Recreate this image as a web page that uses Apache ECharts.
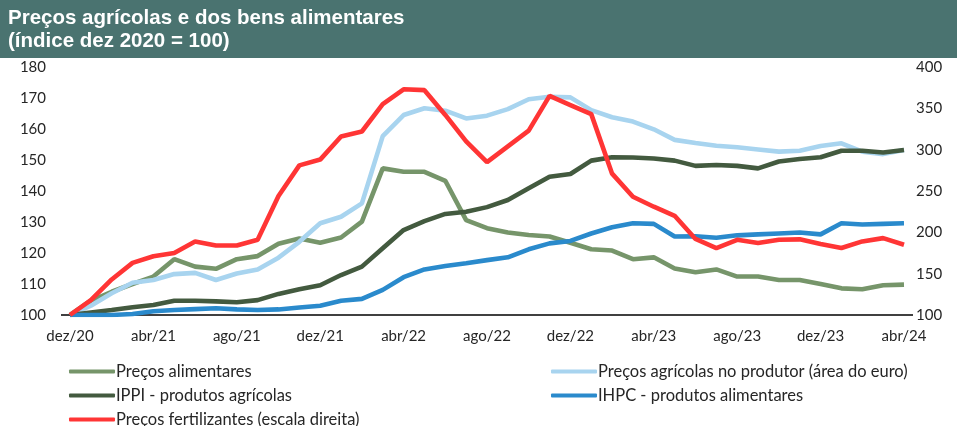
<!DOCTYPE html>
<html>
<head>
<meta charset="utf-8">
<script src="https://cdn.jsdelivr.net/npm/echarts@6/dist/echarts.min.js"></script>
<style>
  html, body { margin: 0; padding: 0; background: #fff; }
  #chart { width: 968px; height: 426px; }
</style>
</head>
<body>
<div id="chart"></div>
<script>
// meses dez/20 .. abr/24
const mesesAbrev = ['jan', 'fev', 'mar', 'abr', 'mai', 'jun', 'jul', 'ago', 'set', 'out', 'nov', 'dez'];
const meses = [];
for (let i = 0; i < 41; i++) {
  const m = (11 + i) % 12;
  const a = 20 + Math.floor((11 + i) / 12);
  meses.push(mesesAbrev[m] + '/' + a);
}

const precosAlimentares = [100, 104.6, 107.5, 110, 112.4, 118, 115.6, 114.9, 118, 119, 123, 124.7, 123.3, 125, 130.1,
  147.3, 146.2, 146.2, 143.3, 130.6, 128, 126.6, 125.8, 125.3, 123.3, 121.2, 120.8, 118, 118.6, 115, 113.8,
  114.7, 112.4, 112.4, 111.3, 111.3, 110, 108.6, 108.3, 109.6, 109.8];
const precosAgricolas = [100, 103, 107, 110.4, 111.3, 113.2, 113.6, 111.3, 113.4, 114.7, 118.5, 123.6, 129.6, 131.7, 136,
  157.7, 164.5, 166.7, 165.9, 163.4, 164.3, 166.4, 169.6, 170.4, 170.2, 166.1, 163.8, 162.4, 159.9, 156.5, 155.5,
  154.6, 154.1, 153.4, 152.7, 153, 154.5, 155.4, 152.7, 151.9, 153.2];
const ippiAgricolas = [100, 100.8, 101.6, 102.5, 103.2, 104.6, 104.6, 104.4, 104.1, 104.8, 106.8, 108.3, 109.6, 112.9, 115.6,
  121.5, 127.4, 130.3, 132.6, 133.3, 134.8, 137.1, 140.9, 144.6, 145.5, 149.8, 150.9, 150.8, 150.5, 149.8, 148.1,
  148.4, 148.1, 147.3, 149.5, 150.3, 150.9, 153, 153, 152.4, 153.2];
const ihpcAlimentares = [100, 100, 100, 100.3, 101.2, 101.6, 101.9, 102.2, 101.8, 101.6, 101.8, 102.4, 103, 104.6, 105.2,
  108.1, 112.2, 114.7, 115.8, 116.7, 117.7, 118.6, 121.2, 123.1, 123.9, 126.3, 128.3, 129.6, 129.4, 125.3, 125.4,
  124.9, 125.7, 126, 126.3, 126.6, 126, 129.6, 129.2, 129.4, 129.6];
const fertilizantes = [100, 118, 143, 163, 171, 175, 189, 184, 184, 191, 244, 281, 288, 316, 322,
  355, 373, 372, 342, 310, 285, 304, 323, 365, 354, 343, 271, 243, 231, 220, 192,
  181, 191, 187, 191, 191.5, 186, 181, 189, 193, 185];

const nomes = ['Preços alimentares', 'Preços agrícolas no produtor (área do euro)', 'IPPI - produtos agrícolas',
  'IHPC - produtos alimentares', 'Preços fertilizantes (escala direita)'];
const cores = ['#76956A', '#A8D4EF', '#435A3F', '#2A8ACC', '#FF3535'];
const valores = [precosAlimentares, precosAgricolas, ippiAgricolas, ihpcAlimentares, fertilizantes];

const fonte = 'Lato, "Open Sans", sans-serif';
const fonteTitulo = 'bold 20.5px "Liberation Sans", Arial, sans-serif';

const myChart = echarts.init(document.getElementById('chart'));

const legendPos = [[64, 358], [546, 358], [64, 382], [546, 382], [64, 406]];

let option = {
  animation: false,
  graphic: [
    { type: 'rect', shape: { x: 0, y: 0, width: 957, height: 58 }, style: { fill: '#4A7370' }, z: 0 },
    { type: 'text', left: 8, top: 8, style: { text: 'Preços agrícolas e dos bens alimentares', fill: '#fff', font: fonteTitulo } },
    { type: 'text', left: 8, top: 31, style: { text: '(índice dez 2020 = 100)', fill: '#fff', font: fonteTitulo } },
    // linha do eixo um pouco mais longa, como no original
    { type: 'line', shape: { x1: 61, y1: 315, x2: 913, y2: 315 }, style: { stroke: '#000', lineWidth: 1.5 }, z: 1 }
  ],
  legend: nomes.map((n, i) => ({
    data: [n],
    left: legendPos[i][0],
    top: legendPos[i][1],
    icon: 'roundRect',
    itemWidth: 46,
    itemHeight: 4,
    itemGap: 2,
    textStyle: { fontFamily: fonte, fontSize: 16.5, color: '#262626', padding: [0, 0, 0, -4] }
  })),
  grid: { left: 70, right: 64, top: 67, bottom: 111 },
  xAxis: {
    type: 'category',
    data: meses,
    boundaryGap: false,
    axisLine: { show: false },
    axisTick: { show: false },
    axisLabel: { interval: 3, margin: 14, color: '#262626', fontFamily: fonte, fontSize: 15 }
  },
  yAxis: [
    {
      type: 'value', min: 100, max: 180, interval: 10,
      splitLine: { show: false },
      axisLabel: { color: '#262626', fontFamily: fonte, fontSize: 15, margin: 24 }
    },
    {
      type: 'value', min: 100, max: 400, interval: 50,
      splitLine: { show: false },
      axisLabel: { color: '#262626', fontFamily: fonte, fontSize: 15, margin: 12 }
    }
  ],
  series: nomes.map((n, i) => ({
    name: n,
    type: 'line',
    yAxisIndex: i === 4 ? 1 : 0,
    data: valores[i],
    symbol: 'none',
    color: cores[i],
    lineStyle: { width: 4.6, color: cores[i] },
    z: 2 + i
  }))
};

myChart.setOption(option);
</script>
</body>
</html>
